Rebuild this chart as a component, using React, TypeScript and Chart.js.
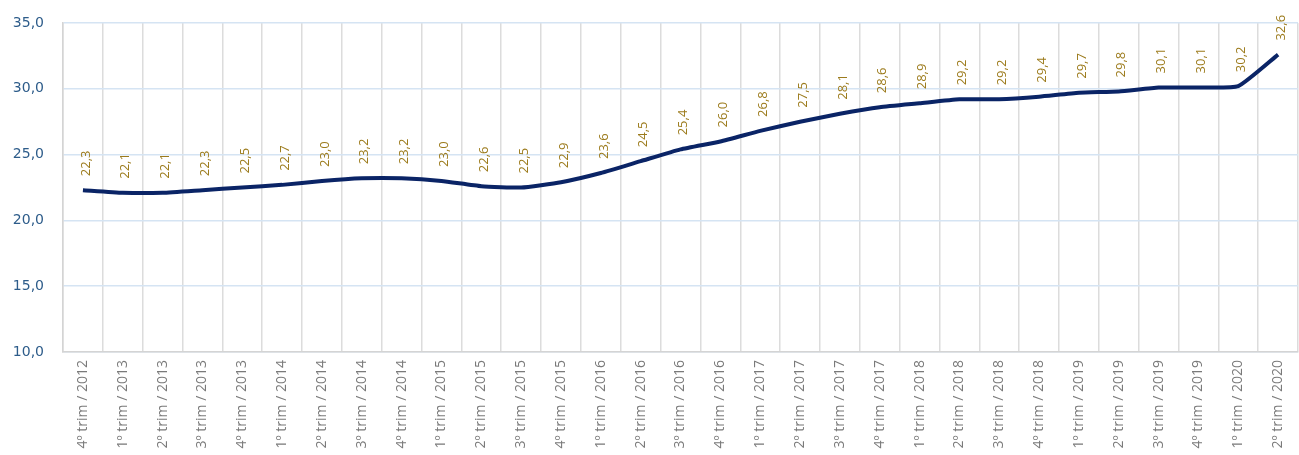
import React, { useEffect, useRef } from "react";
import { Chart, registerables } from "chart.js";

Chart.register(...registerables);

const categories: string[] = [
  "4º trim / 2012",
  "1º trim / 2013", "2º trim / 2013", "3º trim / 2013", "4º trim / 2013",
  "1º trim / 2014", "2º trim / 2014", "3º trim / 2014", "4º trim / 2014",
  "1º trim / 2015", "2º trim / 2015", "3º trim / 2015", "4º trim / 2015",
  "1º trim / 2016", "2º trim / 2016", "3º trim / 2016", "4º trim / 2016",
  "1º trim / 2017", "2º trim / 2017", "3º trim / 2017", "4º trim / 2017",
  "1º trim / 2018", "2º trim / 2018", "3º trim / 2018", "4º trim / 2018",
  "1º trim / 2019", "2º trim / 2019", "3º trim / 2019", "4º trim / 2019",
  "1º trim / 2020", "2º trim / 2020",
];

const values: number[] = [
  22.3,
  22.1, 22.1, 22.3, 22.5,
  22.7, 23.0, 23.2, 23.2,
  23.0, 22.6, 22.5, 22.9,
  23.6, 24.5, 25.4, 26.0,
  26.8, 27.5, 28.1, 28.6,
  28.9, 29.2, 29.2, 29.4,
  29.7, 29.8, 30.1, 30.1,
  30.2, 32.6,
];

const yMin = 10;
const yMax = 35;
const yStep = 5;

const fmt = (v: number) => v.toFixed(1).replace(".", ",");

const dataLabelPlugin = {
  id: "rotatedDataLabels",
  afterDatasetsDraw(chart: any) {
    const ctx = chart.ctx;
    const meta = chart.getDatasetMeta(0);
    ctx.save();
    ctx.fillStyle = "#9C7B1C";
    ctx.font = "13px 'Open Sans'";
    ctx.textAlign = "left";
    ctx.textBaseline = "middle";
    meta.data.forEach((pt: any, i: number) => {
      ctx.save();
      ctx.translate(pt.x + 3, pt.y - 14);
      ctx.rotate(-Math.PI / 2);
      ctx.fillText(fmt(values[i]), 0, 0);
      ctx.restore();
    });
    ctx.restore();
  },
};

export default function App() {
  const ref = useRef<HTMLCanvasElement | null>(null);

  useEffect(() => {
    if (!ref.current) return;
    const chart = new Chart(ref.current, {
      type: "line",
      data: {
        labels: categories,
        datasets: [
          {
            data: values,
            borderColor: "#0A2466",
            borderWidth: 4,
            pointRadius: 0,
            tension: 0.15,
            fill: false,
          },
        ],
      },
      options: {
        responsive: false,
        animation: false,
        layout: { padding: { top: 23, right: 0, left: 0, bottom: 0 } },
        plugins: {
          legend: { display: false },
          tooltip: { enabled: false },
        },
        scales: {
          x: {
            offset: true,
            grid: {
              offset: true,
              color: "#DCDCDC",
              lineWidth: 1.5,
              drawTicks: false,
            },
            border: { color: "#D4D4D4", width: 1.5 },
            ticks: {
              autoSkip: false,
              maxRotation: 90,
              minRotation: 90,
              padding: 8,
              color: "#7A7A7A",
              font: { family: "'Open Sans'", size: 14 },
            },
            afterFit: (s: any) => {
              s.height = 103;
              s.paddingRight = 1;
              s.paddingLeft = 0;
            },
          },
          y: {
            min: yMin,
            max: yMax,
            ticks: {
              stepSize: yStep,
              padding: 19,
              color: "#2D5C8A",
              font: { family: "'DejaVu Sans'", size: 14 },
              callback: (v: any) => fmt(Number(v)),
            },
            grid: { color: "#D5E4F3", lineWidth: 1.5, drawTicks: false },
            border: { color: "#D4D4D4", width: 1.5 },
            afterFit: (s: any) => {
              s.width = 63;
              s.paddingTop = 0;
              s.paddingBottom = 0;
            },
          },
        },
      },
      plugins: [dataLabelPlugin],
    });
    return () => chart.destroy();
  }, []);

  return (
    <div style={{ position: "absolute", left: 0, top: 0, width: 1299, height: 455, background: "#fff" }}>
      <canvas ref={ref} width={1299} height={455} style={{ display: "block" }} />
    </div>
  );
}
